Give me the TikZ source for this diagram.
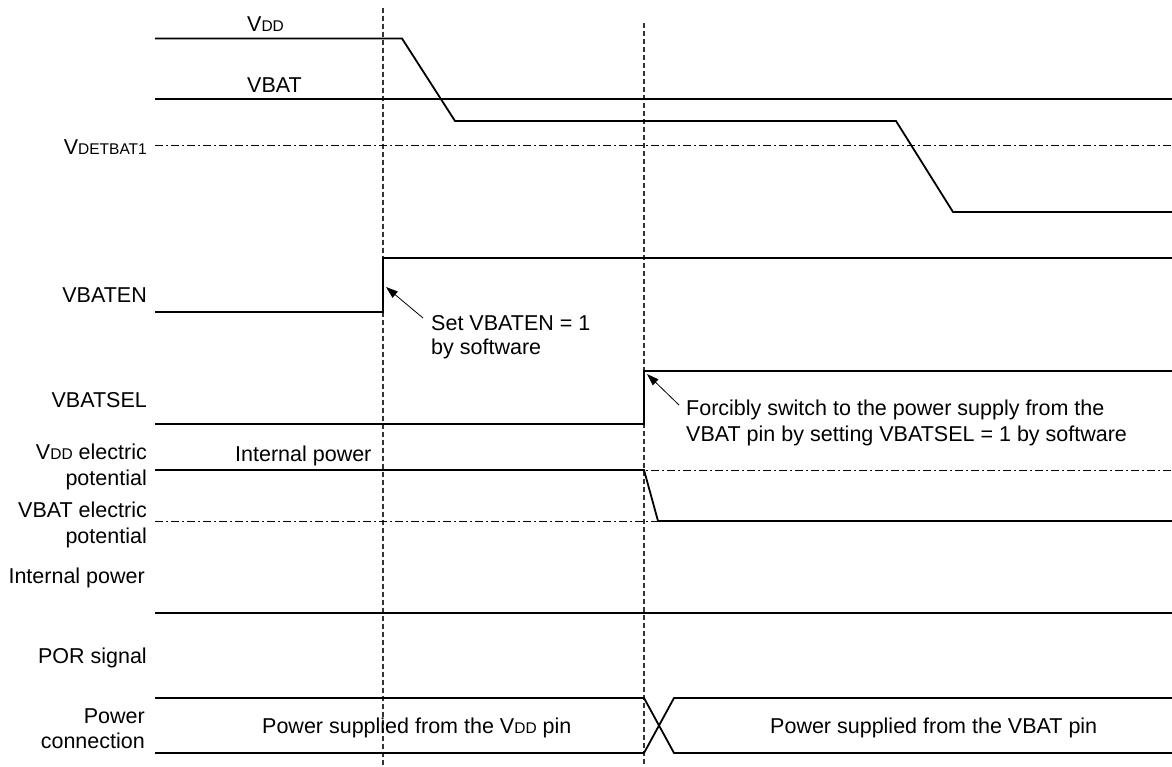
\documentclass[tikz,border=0pt]{standalone}
\usepackage{fontspec}
\setmainfont{Liberation Sans}
\usetikzlibrary{arrows.meta}
\newcommand{\smcap}[1]{{\fontsize{15.5}{15.5}\selectfont #1}}
\begin{document}
\begin{tikzpicture}[x=1pt,y=-1pt,
  font=\fontsize{21.5}{25}\selectfont,
  sig/.style={line width=1.8pt, line join=miter},
  guide/.style={line width=1.2pt, black!80, dash pattern=on 5pt off 3pt},
  lev/.style={line width=1pt, dash pattern=on 8pt off 3pt on 2pt off 3pt},
  lbl/.style={anchor=base east, inner sep=0pt},
  txt/.style={anchor=base west, inner sep=0pt},
  ann/.style={-{Triangle[length=12pt,width=8pt]}, line width=0.8pt}]
\useasboundingbox (0,0) rectangle (1172,767);

% guides
\draw[guide] (383,8) coordinate (g1t) -- (383,767) coordinate (g1b);
\draw[guide] (644,23) coordinate (g2t) -- (644,767) coordinate (g2b);

% level lines
\draw[lev] (155,146) coordinate (vd0) -- (1172,146) coordinate (vd1);
\draw[lev] (155,470) coordinate (ip0) -- (1172,470) coordinate (ip1);
\draw[lev] (155,521) coordinate (bp0) -- (1172,521) coordinate (bp1);

% signals
\draw[sig] (155,38.5) -- (402,38.5) -- (455,121) -- (896,121) -- (953,212) -- (1172,212);
\draw[sig] (155,99) -- (1172,99);
\draw[sig] (155,312) -- (383,312) -- (383,258) -- (1172,258);
\draw[sig] (155,424) -- (644,424) -- (644,371) -- (1172,371);
\draw[sig] (155,470) -- (644,470) -- (658,521) -- (1172,521);
\draw[sig] (155,613) -- (1172,613);
\draw[sig] (155,698) -- (644,698) -- (674,753) -- (1172,753);
\draw[sig] (155,753) -- (644,753) -- (674,698) -- (1172,698);

% signal labels
\node[txt] (lvdd) at (247,32) {V\smcap{DD}};
\node[txt] (lvbat) at (247,93) {VBAT};
\node[lbl] (ldet) at (147,155) {V\smcap{DETBAT1}};
\node[lbl] (len) at (147,302) {VBATEN};
\node[lbl] (lsel) at (147,407) {VBATSEL};
\node[lbl] (lvddp1) at (147,459) {V\smcap{DD} electric};
\node[lbl] (lvddp2) at (147,485) {potential};
\node[lbl] (lbatp1) at (147,517) {VBAT electric};
\node[lbl] (lbatp2) at (147,543) {potential};
\node[lbl] (lint) at (145,583) {Internal power};
\node[lbl] (lpor) at (147,663) {POR signal};
\node[lbl] (lpc1) at (145,723) {Power};
\node[lbl] (lpc2) at (145,748) {connection};

\node[txt] (tint) at (235,461) {Internal power};
\node[txt] (tset1) at (431,330) {Set VBATEN = 1};
\node[txt] (tset2) at (431,354) {by software};
\node[txt] (tfor1) at (686,415) {Forcibly switch to the power supply from the};
\node[txt] (tfor2) at (686,441) {VBAT pin by setting VBATSEL = 1 by software};
\node[txt] (tpv) at (262,733) {Power supplied from the V\smcap{DD} pin};
\node[txt] (tpb) at (770,733) {Power supplied from the VBAT pin};

% annotation arrows
\coordinate (a1t) at (423,318);
\coordinate (a1h) at (386,287);
\coordinate (a2t) at (679,405);
\coordinate (a2h) at (647,374);
\draw[ann] (a1t) -- (a1h);
\draw[ann] (a2t) -- (a2h);
\end{tikzpicture}
\end{document}
